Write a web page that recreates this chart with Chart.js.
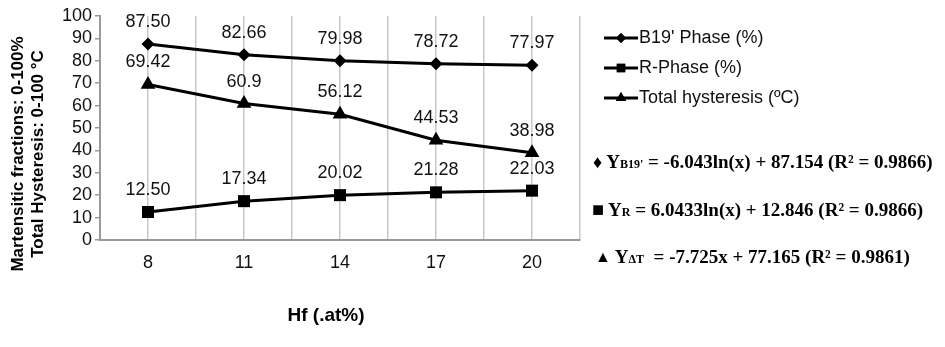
<!DOCTYPE html>
<html>
<head>
<meta charset="utf-8">
<script src="https://cdn.jsdelivr.net/npm/chart.js@4"></script>
<style>
  html, body { margin: 0; padding: 0; background: #fff; }
  #wrap { width: 945px; height: 347px; position: relative; }
</style>
</head>
<body>
<div id="wrap"><canvas id="c" width="945" height="347"></canvas></div>
<script>
// Hf content (.at%) on the x axis
var categories = [8, 11, 14, 17, 20];
var b19Phase = [87.50, 82.66, 79.98, 78.72, 77.97];
var rPhase = [12.50, 17.34, 20.02, 21.28, 22.03];
var hysteresis = [69.42, 60.9, 56.12, 44.53, 38.98];
// labels as printed above the points
var b19Labels = ["87.50", "82.66", "79.98", "78.72", "77.97"];
var rLabels = ["12.50", "17.34", "20.02", "21.28", "22.03"];
var hystLabels = ["69.42", "60.9", "56.12", "44.53", "38.98"];
var yTicks = [0, 10, 20, 30, 40, 50, 60, 70, 80, 90, 100];
var legendNames = ["B19' Phase (%)", "R-Phase (%)", "Total hysteresis (\u00baC)"];

var SANS = "'Liberation Sans', Arial, sans-serif";
var SERIF = "'Liberation Serif', 'Times New Roman', serif";

function pts(values) {
  return values.map(function (v, i) { return { x: categories[i], y: v }; });
}

// value labels above each point
var pointLabels = {
  id: "pointLabels",
  afterDatasetsDraw: function (chart) {
    var ctx = chart.ctx;
    ctx.save();
    ctx.font = "18px " + SANS;
    ctx.fillStyle = "#111";
    ctx.textAlign = "center";
    ctx.textBaseline = "middle";
    chart.data.datasets.forEach(function (ds, di) {
      chart.getDatasetMeta(di).data.forEach(function (el, i) {
        ctx.fillText(ds.valueLabels[i], el.x, el.y - 22);
      });
    });
    ctx.restore();
  }
};

// legend, fit equations and axis titles drawn beside the plot
var sideText = {
  id: "sideText",
  afterDraw: function (chart) {
    var ctx = chart.ctx;
    var styles = ["rectRot", "rect", "triangle"];
    var radii = [5, 6, 6];
    ctx.save();
    // legend
    ctx.font = "18px " + SANS;
    ctx.textBaseline = "middle";
    legendNames.forEach(function (name, i) {
      var y = 38 + i * 30;
      ctx.strokeStyle = "#000";
      ctx.lineWidth = 3;
      ctx.beginPath();
      ctx.moveTo(604, y);
      ctx.lineTo(638, y);
      ctx.stroke();
      Chart.helpers.drawPoint(ctx, { pointStyle: styles[i], radius: radii[i], borderWidth: 0 }, 621, y);
      ctx.fillStyle = "#000";
      ctx.fill();
      ctx.fillStyle = "#111";
      ctx.textAlign = "left";
      ctx.fillText(name, 639, y);
    });
    // equations
    ctx.fillStyle = "#000";
    function eq(x, y, sym, symSize, main, sub, rest) {
      ctx.font = "bold " + symSize + "px " + SERIF;
      ctx.fillText(sym, x, y);
      x += ctx.measureText(sym).width + 4;
      ctx.font = "bold 19px " + SERIF;
      ctx.fillText(main, x, y);
      x += ctx.measureText(main).width;
      ctx.font = "bold 12px " + SERIF;
      ctx.fillText(sub, x, y + 2);
      x += ctx.measureText(sub).width;
      ctx.font = "bold 19px " + SERIF;
      ctx.fillText(rest, x, y);
    }
    eq(593, 163, "\u2666", 18, "Y", "B19'", " = -6.043ln(x) + 87.154 (R\u00b2 = 0.9866)");
    eq(592, 211, "\u25a0", 20, "Y", "R", " = 6.0433ln(x) + 12.846 (R\u00b2 = 0.9866)");
    eq(595, 258, "\u25b2", 16, "Y", "\u0394T", "  = -7.725x + 77.165 (R\u00b2 = 0.9861)");
    // y axis title (two lines, rotated)
    ctx.font = "bold 17px " + SANS;
    ctx.textAlign = "center";
    ctx.save();
    ctx.translate(18, 154);
    ctx.rotate(-Math.PI / 2);
    ctx.fillText("Martensitic fractions: 0-100%", 0, 0);
    ctx.fillText("Total Hysteresis: 0-100 \u00b0C", 0, 20);
    ctx.restore();
    // x axis title
    ctx.font = "bold 19px " + SANS;
    ctx.fillText("Hf (.at%)", 326, 316);
    ctx.restore();
  }
};

function series(label, values, labels, style, radius) {
  return {
    label: label,
    data: pts(values),
    valueLabels: labels,
    borderColor: "#000",
    backgroundColor: "#000",
    borderWidth: 3,
    pointStyle: style,
    pointRadius: radius,
    pointBorderWidth: 0,
    pointBackgroundColor: "#000",
    tension: 0
  };
}

new Chart(document.getElementById("c"), {
  type: "line",
  data: {
    datasets: [
      series(legendNames[0], b19Phase, b19Labels, "rectRot", 6.5),
      series(legendNames[1], rPhase, rLabels, "rect", 8.5),
      series(legendNames[2], hysteresis, hystLabels, "triangle", 8.5)
    ]
  },
  options: {
    responsive: false,
    animation: false,
    layout: { padding: { top: 16, right: 365, left: 0, bottom: 0 } },
    plugins: { legend: { display: false }, tooltip: { enabled: false } },
    scales: {
      x: {
        type: "linear",
        min: categories[0] - 1.5,
        max: categories[categories.length - 1] + 1.5,
        afterFit: function (s) { s.height = 107; },
        afterBuildTicks: function (s) {
          var t = [];
          for (var v = s.min; v <= s.max + 0.001; v += 1.5) t.push({ value: v });
          s.ticks = t;
        },
        grid: { color: "#c8c8c8", lineWidth: 1.5, drawTicks: false },
        border: { color: "#999", width: 2 },
        ticks: {
          padding: 12,
          autoSkip: false,
          maxRotation: 0,
          color: "#111",
          font: { size: 18, family: SANS },
          callback: function (v) { return categories.indexOf(v) >= 0 ? String(v) : ""; }
        }
      },
      y: {
        min: yTicks[0],
        max: yTicks[yTicks.length - 1],
        afterFit: function (s) { s.width = 100; },
        afterBuildTicks: function (s) {
          s.ticks = yTicks.map(function (v) { return { value: v }; });
        },
        grid: { display: true, drawOnChartArea: false, color: "#999", tickLength: 5, lineWidth: 1.5 },
        border: { color: "#999", width: 2 },
        ticks: {
          padding: 3,
          autoSkip: false,
          color: "#111",
          font: { size: 18, family: SANS }
        }
      }
    }
  },
  plugins: [pointLabels, sideText]
});
</script>
</body>
</html>
